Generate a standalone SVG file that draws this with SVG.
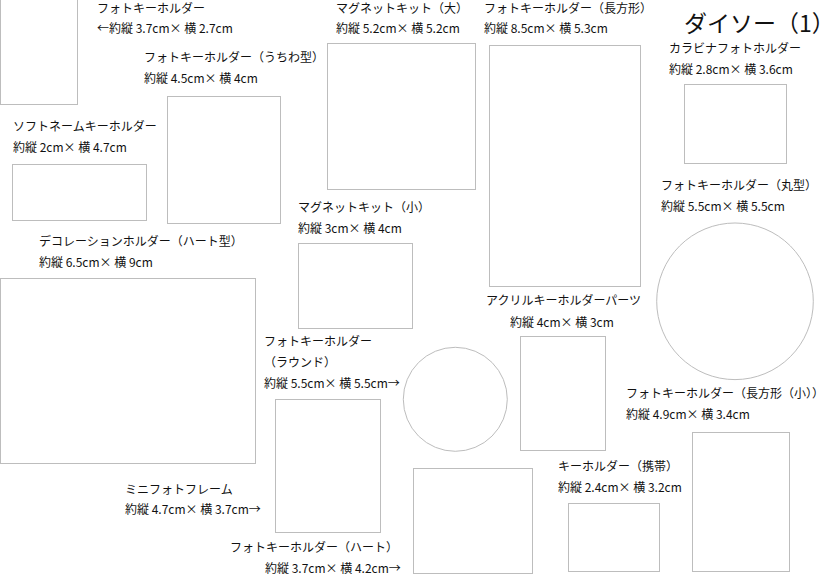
<svg xmlns="http://www.w3.org/2000/svg" width="834" height="578" viewBox="0 0 834 578">
<style>
.s{fill:#fff;stroke:#bdbdbd;stroke-width:1}
text{font-family:"Noto Sans CJK JP","Noto Sans",sans-serif;font-size:12px;fill:#111}
.t{font-size:23px}
</style>
<rect width="834" height="578" fill="#fff"/>
<g id="title"><text class="t" x="684" y="32">ダイソー（1）</text></g>
<g id="n1"><rect class="s" x="0.5" y="-0.5" width="77" height="105"/><text x="97" y="13">フォトキーホルダー</text><text x="97" y="33">←約縦 3.7cm× 横 2.7cm</text></g>
<g id="n2"><rect class="s" x="167.5" y="96.5" width="113" height="127"/><text x="144" y="62">フォトキーホルダー（うちわ型）</text><text x="144" y="83">約縦 4.5cm× 横 4cm</text></g>
<g id="n3"><rect class="s" x="12.5" y="164.5" width="134" height="56"/><text x="13" y="131">ソフトネームキーホルダー</text><text x="13" y="152">約縦 2cm× 横 4.7cm</text></g>
<g id="n4"><rect class="s" x="0.5" y="278.5" width="255" height="185"/><text x="39" y="246">デコレーションホルダー（ハート型）</text><text x="39" y="267">約縦 6.5cm× 横 9cm</text></g>
<g id="n5"><rect class="s" x="327.5" y="43.5" width="148" height="146"/><text x="336" y="13">マグネットキット（大）</text><text x="336" y="33">約縦 5.2cm× 横 5.2cm</text></g>
<g id="n6"><rect class="s" x="298.5" y="243.5" width="114" height="85"/><text x="298" y="212">マグネットキット（小）</text><text x="298" y="233">約縦 3cm× 横 4cm</text></g>
<g id="n7"><rect class="s" x="489.5" y="45.5" width="151" height="241"/><text x="484" y="13">フォトキーホルダー（長方形）</text><text x="484" y="33">約縦 8.5cm× 横 5.3cm</text></g>
<g id="n8"><rect class="s" x="684.5" y="84.5" width="102" height="79"/><text x="669" y="53">カラビナフォトホルダー</text><text x="669" y="74">約縦 2.8cm× 横 3.6cm</text></g>
<g id="n9"><circle class="s" cx="735" cy="301.3" r="78.3"/><text x="661" y="190">フォトキーホルダー（丸型）</text><text x="661" y="211">約縦 5.5cm× 横 5.5cm</text></g>
<g id="n10"><rect class="s" x="520.5" y="336.5" width="85" height="114"/><text x="486" y="305">アクリルキーホルダーパーツ</text><text x="510" y="327">約縦 4cm× 横 3cm</text></g>
<g id="n11"><circle class="s" cx="455.3" cy="399.3" r="52"/><text x="264" y="346">フォトキーホルダー</text><text x="264" y="367">（ラウンド）</text><text x="264" y="388">約縦 5.5cm× 横 5.5cm→</text></g>
<g id="n12"><rect class="s" x="275.5" y="399.5" width="105" height="133"/><text x="125" y="494">ミニフォトフレーム</text><text x="125" y="514">約縦 4.7cm× 横 3.7cm→</text></g>
<g id="n13"><rect class="s" x="413.5" y="468.5" width="119" height="105"/><text x="230" y="552">フォトキーホルダー（ハート）</text><text x="265" y="573">約縦 3.7cm× 横 4.2cm→</text></g>
<g id="n14"><rect class="s" x="568.5" y="503.5" width="91" height="68"/><text x="558" y="471">キーホルダー（携帯）</text><text x="558" y="492">約縦 2.4cm× 横 3.2cm</text></g>
<g id="n15"><rect class="s" x="692.5" y="432.5" width="97" height="139"/><text x="626" y="398">フォトキーホルダー（長方形（小））</text><text x="626" y="419">約縦 4.9cm× 横 3.4cm</text></g>
<g id="connectors"/>
</svg>
